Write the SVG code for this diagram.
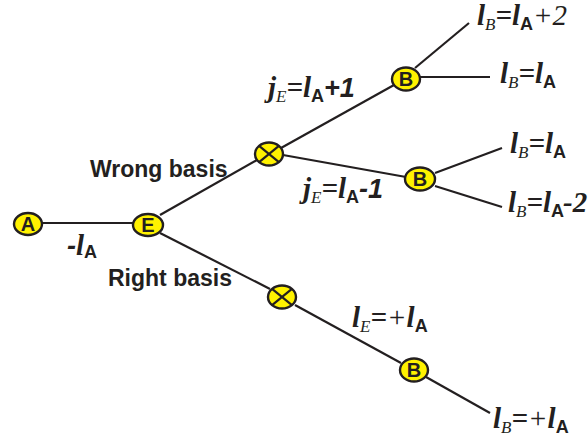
<svg xmlns="http://www.w3.org/2000/svg" width="588" height="440" viewBox="0 0 588 440">
<style>
.ln{stroke:#231f20;stroke-width:2.2;fill:none}
.nd{fill:#fff200;stroke:#231f20;stroke-width:2.4}
.nl{font-family:"Liberation Sans",Arial,sans-serif;font-weight:bold;font-size:20px;fill:#231f20;text-anchor:middle}
.bs{font-family:"Liberation Sans",Arial,sans-serif;font-weight:bold;font-size:23px;fill:#231f20}
.m{font-family:"Liberation Serif","Times New Roman",serif;font-size:29px;fill:#231f20;font-weight:bold;font-style:italic}
.sub{font-size:17px;font-weight:normal;font-style:italic}
.sa{font-family:"Liberation Sans",Arial,sans-serif;font-size:18px;font-weight:bold;font-style:normal}
.rg{font-weight:normal}
.sb{font-family:"Liberation Sans",Arial,sans-serif;font-weight:bold;font-style:italic;font-size:27px}
</style>
<g id="connectors">
<line class="ln" x1="42" y1="223" x2="133" y2="223"/>
<line class="ln" x1="160" y1="215" x2="257" y2="160"/>
<line class="ln" x1="160" y1="233" x2="270" y2="289"/>
<line class="ln" x1="281" y1="148" x2="394" y2="85"/>
<line class="ln" x1="283" y1="155" x2="406" y2="177"/>
<line class="ln" x1="415" y1="68" x2="469" y2="23"/>
<line class="ln" x1="420" y1="77" x2="490" y2="77"/>
<line class="ln" x1="435" y1="173" x2="502" y2="148"/>
<line class="ln" x1="435" y1="186" x2="502" y2="207"/>
<line class="ln" x1="295" y1="305" x2="401" y2="363"/>
<line class="ln" x1="426" y1="377" x2="490" y2="413"/>
</g>
<g id="nodeA"><ellipse class="nd" cx="28" cy="224" rx="14" ry="11"/><text class="nl" x="28" y="231">A</text></g>
<g id="nodeE"><ellipse class="nd" cx="148" cy="225" rx="15" ry="11"/><text class="nl" x="148" y="232">E</text></g>
<g id="crossUpper"><ellipse class="nd" cx="269" cy="154" rx="14" ry="11.5"/><path class="ln" d="M259.1 145.9L278.9 162.1M278.9 145.9L259.1 162.1"/></g>
<g id="crossLower"><ellipse class="nd" cx="282" cy="297" rx="14" ry="11.5"/><path class="ln" d="M272.1 288.9L291.9 305.1M291.9 288.9L272.1 305.1"/></g>
<g id="nodeB1"><ellipse class="nd" cx="406" cy="79" rx="14" ry="11.5"/><text class="nl" x="406" y="86">B</text></g>
<g id="nodeB2"><ellipse class="nd" cx="420" cy="179" rx="15" ry="11.5"/><text class="nl" x="420" y="186">B</text></g>
<g id="nodeB3"><ellipse class="nd" cx="414" cy="370" rx="14" ry="11.5"/><text class="nl" x="414" y="377">B</text></g>
<g id="labels">
<text class="bs" x="90" y="177">Wrong basis</text>
<text class="bs" x="108" y="286">Right basis</text>
<text class="m" x="67" y="255"><tspan class="sb">-</tspan>l<tspan class="sa" dy="3">A</tspan></text>
<text class="m" x="268" y="97">j<tspan class="sub" dy="5">E</tspan><tspan dy="-5">=l</tspan><tspan class="sa" dy="5">A</tspan><tspan class="sb" dy="-5">+1</tspan></text>
<text class="m" x="303" y="198">j<tspan class="sub" dy="5">E</tspan><tspan dy="-5">=l</tspan><tspan class="sa" dy="5">A</tspan><tspan class="sb" dy="-5">-1</tspan></text>
<text class="m" x="477" y="25">l<tspan class="sub" dy="5">B</tspan><tspan dy="-5">=l</tspan><tspan class="sa" dy="5">A</tspan><tspan class="rg" dy="-5">+2</tspan></text>
<text class="m" x="500" y="83">l<tspan class="sub" dy="5">B</tspan><tspan dy="-5">=l</tspan><tspan class="sa" dy="5">A</tspan></text>
<text class="m" x="510" y="153">l<tspan class="sub" dy="5">B</tspan><tspan dy="-5">=l</tspan><tspan class="sa" dy="5">A</tspan></text>
<text class="m" x="508" y="212">l<tspan class="sub" dy="5">B</tspan><tspan dy="-5">=l</tspan><tspan class="sa" dy="5">A</tspan><tspan dy="-5" dx="-1">-2</tspan></text>
<text class="m" x="352" y="327">l<tspan class="sub" dy="5">E</tspan><tspan dy="-5">=</tspan><tspan class="rg">+</tspan>l<tspan class="sa" dy="5">A</tspan></text>
<text class="m" x="493" y="428">l<tspan class="sub" dy="5">B</tspan><tspan dy="-5">=</tspan><tspan class="rg">+</tspan>l<tspan class="sa" dy="5">A</tspan></text>
</g>
</svg>
